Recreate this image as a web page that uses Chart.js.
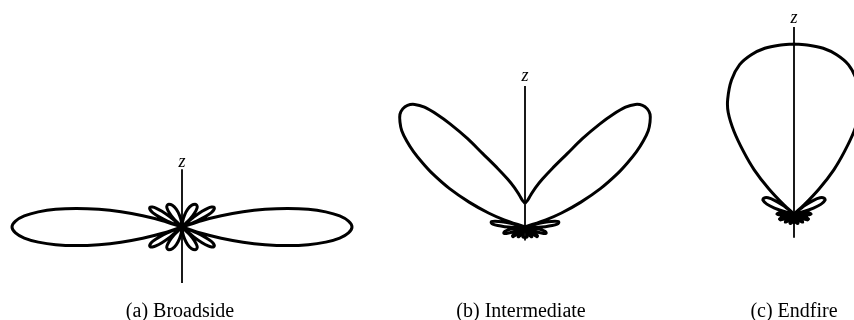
<!DOCTYPE html>
<html>
<head>
<meta charset="utf-8">
<script src="https://cdn.jsdelivr.net/npm/chart.js@4.4.1/dist/chart.umd.min.js"></script>
<style>
  body { margin: 0; background: #fff; }
  #page { position: relative; width: 854px; height: 320px; overflow: hidden; font-family: "Liberation Serif", "DejaVu Serif", serif; color: #000; }
  .panel { position: absolute; top: 0; height: 320px; }
  .zlab { position: absolute; font-style: italic; font-size: 18px; line-height: 18px; width: 20px; margin-left: -10px; text-align: center; }
  .cap { position: absolute; top: 300px; font-size: 20px; line-height: 20px; width: 240px; margin-left: -120px; text-align: center; white-space: nowrap; }
</style>
</head>
<body>
<div id="page">
  <div class="panel" style="left:0;width:370px"><canvas id="c0" width="370" height="320"></canvas></div>
  <div class="panel" style="left:370px;width:320px"><canvas id="c1" width="320" height="320"></canvas></div>
  <div class="panel" style="left:690px;width:164px"><canvas id="c2" width="164" height="320"></canvas></div>
  <div class="zlab" style="left:182px;top:152px">z</div>
  <div class="zlab" style="left:525px;top:66px">z</div>
  <div class="zlab" style="left:794px;top:8px">z</div>
  <div class="cap" id="cap0" style="left:180px"></div>
  <div class="cap" id="cap1" style="left:521px"></div>
  <div class="cap" id="cap2" style="left:794px"></div>
</div>
<script>
// captions
const captions = ['(a) Broadside', '(b) Intermediate', '(c) Endfire'];

// polar patterns: theta in degrees from the z axis, gain normalised to the main lobe
const broadsideTheta = [0, 6, 12, 18, 24, 30, 34, 38, 42, 45, 48,
  50, 52, 54, 56, 58, 60, 62, 64, 66, 68, 70.5,
  72, 74, 76, 78, 80, 82, 84, 86, 88, 90, 92, 94, 96, 98, 100, 102, 104, 106, 108, 109.5,
  112, 114, 116, 118, 120, 122, 124, 126, 128, 130, 132,
  135, 138, 142, 146, 150, 156, 162, 168, 174, 180];
const broadsideGain = [0, 0.03, 0.07, 0.11, 0.14, 0.155, 0.155, 0.145, 0.11, 0.07, 0,
  0.09, 0.15, 0.19, 0.21, 0.22, 0.22, 0.21, 0.19, 0.15, 0.09, 0,
  0.12, 0.24, 0.37, 0.5, 0.63, 0.75, 0.85, 0.93, 0.98, 1, 0.98, 0.93, 0.85, 0.75, 0.63, 0.5, 0.37, 0.24, 0.12, 0,
  0.09, 0.15, 0.19, 0.21, 0.22, 0.22, 0.21, 0.19, 0.15, 0.09, 0,
  0.07, 0.11, 0.145, 0.155, 0.155, 0.14, 0.11, 0.07, 0.03, 0];

const intermediateTheta = [0, 5, 10, 15, 20, 25, 30, 33, 36, 38, 40, 42, 44, 46, 48, 50, 52, 54, 56, 58,
  60, 63, 66, 69, 71, 73, 75, 77, 79, 81, 83, 85, 87, 89, 91, 93, 95,
  98, 102, 106, 110, 114, 118, 121, 125, 129, 133, 137, 141, 145, 150, 155, 160, 164, 168, 174, 180];
const intermediateGain = [0.14, 0.155, 0.19, 0.24, 0.3, 0.38, 0.5, 0.62, 0.75, 0.84, 0.92, 0.97, 0.995, 1, 0.99, 0.96, 0.92, 0.86, 0.79, 0.71,
  0.63, 0.5, 0.36, 0.23, 0.13, 0, 0.08, 0.14, 0.18, 0.2, 0.2, 0.19, 0.16, 0.12, 0.08, 0.04, 0,
  0.08, 0.12, 0.13, 0.11, 0.05, 0, 0.05, 0.09, 0.09, 0.05, 0, 0.04, 0.07, 0.06, 0.03, 0, 0.04, 0.06, 0.06, 0.06];

const endfireTheta = [0, 5, 10, 15, 20, 25, 30, 33, 36, 39, 42, 45, 48, 50,
  52, 55, 58, 62, 66, 70, 73, 76, 78,
  82, 86, 90, 94, 98, 100, 104, 109, 114, 119, 122, 127, 133, 139, 144, 150, 158, 166, 171, 180];
const endfireGain = [1, 0.997, 0.99, 0.97, 0.935, 0.87, 0.78, 0.71, 0.6, 0.47, 0.35, 0.21, 0.08, 0,
  0.08, 0.14, 0.18, 0.2, 0.2, 0.17, 0.12, 0.05, 0,
  0.06, 0.09, 0.1, 0.08, 0.03, 0, 0.06, 0.09, 0.085, 0.04, 0, 0.05, 0.07, 0.05, 0, 0.04, 0.06, 0.05, 0.02, 0.05];

// extent of the drawn z axis, same units as gain
const axisTop = [0.34, 0.83, 1.10];
const axisBottom = [-0.33, -0.08, -0.14];

// layout: where each pattern's origin sits inside its canvas, and px per gain unit
const PX = 170;
const panels = [
  { id: 'c0', w: 370, ox: 182, oy: 227 },
  { id: 'c1', w: 320, ox: 155, oy: 227 },
  { id: 'c2', w: 164, ox: 104, oy: 214 }
];

// right half from theta 0 to 180, then the mirrored left half back up
function polarPath(theta, gain) {
  const pts = [];
  for (let i = 0; i < theta.length; i++) {
    const t = theta[i] * Math.PI / 180;
    pts.push({ x: gain[i] * Math.sin(t), y: gain[i] * Math.cos(t) });
  }
  for (let i = theta.length - 1; i >= 0; i--) {
    const t = theta[i] * Math.PI / 180;
    pts.push({ x: -gain[i] * Math.sin(t), y: gain[i] * Math.cos(t) });
  }
  return pts;
}

const patterns = [
  [broadsideTheta, broadsideGain],
  [intermediateTheta, intermediateGain],
  [endfireTheta, endfireGain]
];

panels.forEach(function (p, k) {
  document.getElementById('cap' + k).textContent = captions[k];
  const H = 320;
  new Chart(document.getElementById(p.id), {
    type: 'scatter',
    data: {
      datasets: [
        {
          data: polarPath(patterns[k][0], patterns[k][1]),
          showLine: true,
          borderColor: '#000',
          borderWidth: 3,
          pointRadius: 0,
          tension: 0.3,
          borderJoinStyle: 'round'
        },
        {
          data: [{ x: 0, y: axisBottom[k] }, { x: 0, y: axisTop[k] }],
          showLine: true,
          borderColor: '#000',
          borderWidth: 1.8,
          pointRadius: 0
        }
      ]
    },
    options: {
      responsive: false,
      animation: false,
      events: [],
      layout: { padding: 0 },
      plugins: { legend: { display: false }, tooltip: { enabled: false } },
      scales: {
        x: { display: false, min: -p.ox / PX, max: (p.w - p.ox) / PX },
        y: { display: false, min: -(H - p.oy) / PX, max: p.oy / PX }
      }
    }
  });
});
</script>
</body>
</html>
